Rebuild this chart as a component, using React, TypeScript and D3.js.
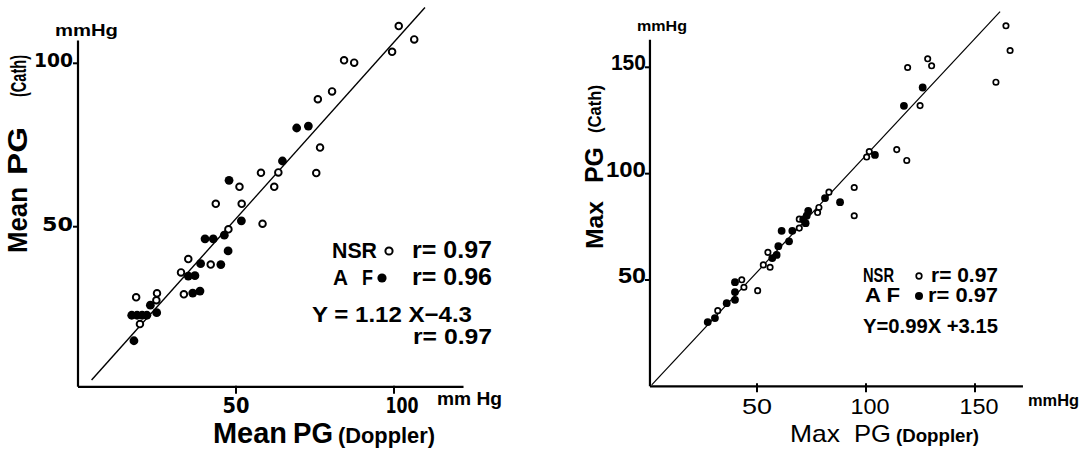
import React from 'react';
import * as d3 from 'd3';

// ---------- data ----------
const meanTicks = [50, 100];
const maxTicks = [50, 100, 150];

// Mean PG: [Doppler, Cath]
const meanNsr: [number, number][] = [
  [101.5, 111.4], [106.4, 107.3], [99.4, 103.5], [84.2, 100.9], [87.4, 100.2],
  [80.4, 91.4], [75.9, 89.0], [76.6, 74.2], [57.9, 66.5], [63.4, 66.6],
  [75.4, 66.4], [51.1, 62.2], [62.1, 62.2], [43.6, 57.0], [51.8, 57.0],
  [58.4, 50.9], [47.6, 49.2], [34.9, 40.1], [42.0, 38.4], [32.6, 36.0],
  [33.5, 29.3], [18.4, 28.4], [25.0, 29.6], [24.8, 27.5], [19.6, 20.2],
];
const meanAf: [number, number][] = [
  [69.2, 80.2], [72.9, 80.8], [64.7, 70.1], [47.8, 64.2], [51.7, 51.8],
  [40.2, 46.3], [42.8, 46.3], [46.3, 47.4], [47.5, 42.6], [38.8, 38.7],
  [45.2, 38.4], [34.9, 34.9], [37.0, 35.0], [36.3, 29.7], [38.6, 30.3],
  [22.9, 26.0], [17.0, 22.9], [18.7, 22.9], [20.3, 22.9], [21.8, 22.9],
  [24.9, 23.7], [17.7, 15.1],
];
// Max PG: [Doppler, Cath]
const maxNsr: [number, number][] = [
  [164.2, 169.5], [166.1, 157.9], [128.3, 154.0], [130.1, 150.7], [119.1, 149.9],
  [159.6, 143.0], [124.8, 132.0], [114.1, 111.3], [118.7, 106.2], [101.5, 110.4],
  [100.3, 107.8], [94.6, 93.5], [83.0, 91.3], [78.4, 84.1], [77.8, 81.7],
  [94.6, 80.2], [69.4, 78.6], [69.4, 74.4], [55.0, 63.0], [52.9, 57.1],
  [56.0, 56.0], [43.0, 50.1], [44.0, 46.6], [50.3, 45.0], [32.0, 35.6],
];
const maxAf: [number, number][] = [
  [126.0, 140.5], [117.4, 131.9], [104.1, 108.8], [81.2, 88.5], [88.1, 86.6],
  [73.5, 82.5], [72.8, 80.2], [71.2, 78.5], [72.3, 76.7], [66.2, 73.1],
  [61.3, 73.1], [64.7, 68.2], [59.8, 65.9], [59.0, 61.8], [57.0, 60.3],
  [39.9, 49.0], [39.9, 44.3], [39.9, 40.7], [36.1, 39.1], [30.7, 32.1],
  [27.4, 30.2],
];

const meanFit: [number, number][] = [[4.3, 3.1], [109.8, 117.1]];
const maxFit: [number, number][] = [[1.7, 0.7], [161.5, 176.2]];

const meanAxisX = [0, 122];
const meanAxisY = [1, 107];
const maxAxisX = [0.9, 172];
const maxAxisY = [0, 163];

// ---------- scales ----------
const meanX = d3.scaleLinear().domain([50, 100]).range([236, 394]);
const meanY = d3.scaleLinear().domain([50, 100]).range([226.7, 63.3]);
const maxX = d3.scaleLinear().domain([50, 150]).range([757, 975]);
const maxY = d3.scaleLinear().domain([50, 150]).range([280, 67.3]);

const WIDE = "'DejaVu Sans', sans-serif";
const NARROW = "'Liberation Sans', Arial, sans-serif";

type LP = {
  x: number; y: number; size: number; len?: number; anchor?: 'start' | 'middle' | 'end';
  rot?: boolean; font?: string; weight?: string | number; children: React.ReactNode;
};
function T({ x, y, size, len, anchor = 'start', rot, font = NARROW, weight = 'bold', children }: LP) {
  const props: any = {};
  if (len) { props.textLength = len; props.lengthAdjust = 'spacingAndGlyphs'; }
  const txt = (
    <text
      x={rot ? 0 : x}
      y={rot ? 0 : y}
      fontSize={size}
      fontFamily={font}
      fontWeight={weight}
      textAnchor={anchor}
      fill="#000"
      {...props}
    >
      {children}
    </text>
  );
  return rot ? <g transform={`translate(${x},${y}) rotate(-90)`}>{txt}</g> : txt;
}

function Points({ data, sx, sy, filled, r, sw }: {
  data: [number, number][]; sx: d3.ScaleLinear<number, number>; sy: d3.ScaleLinear<number, number>;
  filled: boolean; r: number; sw: number;
}) {
  return (
    <g>
      {data.map(([a, b], i) => (
        <circle key={i} cx={sx(a)} cy={sy(b)} r={r}
          fill={filled ? '#000' : '#fff'} stroke="#000" strokeWidth={filled ? 0 : sw} />
      ))}
    </g>
  );
}

export default function App() {
  const line = (sx: any, sy: any) => d3.line<[number, number]>().x(d => sx(d[0])).y(d => sy(d[1]));
  const mAxisYpx = meanY(meanAxisY[0]);
  const mAxisXpx = meanX(meanAxisX[0]);
  const xAxisYpx = maxY(maxAxisY[0]);
  const xAxisXpx = maxX(maxAxisX[0]);
  return (
    <svg width={1087} height={453} style={{ position: 'absolute', left: 0, top: 0, background: '#fff' }}>
      <rect x={0} y={0} width={1087} height={453} fill="#fff" />
      {/* ===== Left: Mean PG ===== */}
      <g>
        <line x1={meanX(meanAxisX[0])} x2={meanX(meanAxisX[1])} y1={mAxisYpx} y2={mAxisYpx} stroke="#000" strokeWidth={2.2} />
        <line x1={mAxisXpx} x2={mAxisXpx} y1={meanY(meanAxisY[0])} y2={meanY(meanAxisY[1])} stroke="#000" strokeWidth={2.2} />
        {meanTicks.map(t => (
          <g key={'mx' + t}>
            <line x1={meanX(t)} x2={meanX(t)} y1={mAxisYpx - 1} y2={mAxisYpx + 7} stroke="#000" strokeWidth={2} />
            <T x={meanX(t) + (t === 100 ? 8 : 0)} y={413} size={22} anchor="middle" font={WIDE} weight={600} len={t === 100 ? 33 : 27}>{t}</T>
          </g>
        ))}
        {meanTicks.map(t => (
          <g key={'my' + t}>
            <line x1={mAxisXpx - 5} x2={mAxisXpx} y1={meanY(t)} y2={meanY(t)} stroke="#000" strokeWidth={2} />
            <T x={mAxisXpx - 5} y={meanY(t) + 4} size={20} anchor="end" font={WIDE} len={t === 100 ? 39 : 31}>{t}</T>
          </g>
        ))}
        <path d={line(meanX, meanY)(meanFit) || ''} stroke="#000" strokeWidth={1.4} fill="none" />
        <Points data={meanNsr} sx={meanX} sy={meanY} filled={false} r={3.3} sw={1.9} />
        <Points data={meanAf} sx={meanX} sy={meanY} filled={true} r={4.4} sw={0} />

        <T x={55} y={36} size={17} len={63}>mmHg</T>
        <T x={437} y={405} size={18} len={65} weight={600}>mm Hg</T>

        <T x={27} y={220} size={27} rot anchor="middle" len={66}>Mean</T>
        <T x={27} y={151} size={27} rot anchor="middle" len={48}>PG</T>
        <T x={26} y={76} size={22} rot anchor="middle" len={42}>(Cath)</T>

        <T x={213} y={443} size={29} len={74}>Mean</T>
        <T x={293} y={443} size={29} len={40}>PG</T>
        <T x={338} y={443} size={21.5} len={97}>(Doppler)</T>

        <T x={332} y={258} size={22} len={45}>NSR</T>
        <circle cx={389} cy={251} r={3.6} fill="#fff" stroke="#000" strokeWidth={2} />
        <T x={412} y={258} size={23} len={80}>r= 0.97</T>
        <T x={333} y={285} size={22} len={15}>A</T>
        <T x={362} y={285} size={22} len={11}>F</T>
        <circle cx={382} cy={278} r={4.6} fill="#000" />
        <T x={412} y={285} size={23} len={80}>r= 0.96</T>
        <T x={312} y={322} size={22} len={160}>Y = 1.12 X−4.3</T>
        <T x={413} y={344} size={22} len={79}>r= 0.97</T>
      </g>

      {/* ===== Right: Max PG ===== */}
      <g>
        <line x1={maxX(maxAxisX[0])} x2={maxX(maxAxisX[1])} y1={xAxisYpx} y2={xAxisYpx} stroke="#000" strokeWidth={2.2} />
        <line x1={xAxisXpx} x2={xAxisXpx} y1={maxY(maxAxisY[0])} y2={maxY(maxAxisY[1])} stroke="#000" strokeWidth={2.2} />
        {maxTicks.map(t => (
          <g key={'xx' + t}>
            <line x1={maxX(t)} x2={maxX(t)} y1={xAxisYpx - 3} y2={xAxisYpx + 6} stroke="#000" strokeWidth={2} />
            <T x={maxX(t) + (t === 50 ? 0 : 4)} y={414} size={22} anchor="middle" weight={500} len={t === 50 ? 30 : 39}>{t}</T>
          </g>
        ))}
        {maxTicks.map(t => (
          <g key={'xy' + t}>
            <line x1={xAxisXpx - 5} x2={xAxisXpx} y1={maxY(t)} y2={maxY(t)} stroke="#000" strokeWidth={2} />
            <T x={xAxisXpx - 4} y={maxY(t) + 3} size={22} anchor="end" len={t === 50 ? 28 : (t === 100 ? 40 : 35)}>{t}</T>
          </g>
        ))}
        <path d={line(maxX, maxY)(maxFit) || ''} stroke="#000" strokeWidth={1.2} fill="none" />
        <Points data={maxNsr} sx={maxX} sy={maxY} filled={false} r={2.7} sw={1.7} />
        <Points data={maxAf} sx={maxX} sy={maxY} filled={true} r={3.9} sw={0} />

        <T x={637} y={31} size={15} len={50}>mmHg</T>
        <T x={1028} y={406} size={16} len={51} weight={600}>mmHg</T>

        <T x={603} y={225} size={24} rot anchor="middle" weight={600} len={48}>Max</T>
        <T x={603} y={165} size={25} rot anchor="middle" len={36}>PG</T>
        <T x={601} y={109} size={18} rot anchor="middle" weight={600} len={48}>(Cath)</T>

        <T x={790} y={442} size={24} weight={500} len={50}>Max</T>
        <T x={854} y={442} size={24} weight={500} len={37}>PG</T>
        <T x={896} y={442} size={18} weight={600} len={83}>(Doppler)</T>

        <T x={863} y={282} size={20} len={31}>NSR</T>
        <circle cx={919} cy={276} r={2.8} fill="#fff" stroke="#000" strokeWidth={1.7} />
        <T x={931} y={282} size={20} len={67}>r= 0.97</T>
        <T x={865} y={302} size={20} len={35}>A F</T>
        <circle cx={919} cy={296} r={4} fill="#000" />
        <T x={928} y={302} size={20} len={70}>r= 0.97</T>
        <T x={863} y={333} size={20} len={135}>Y=0.99X +3.15</T>
      </g>
    </svg>
  );
}
